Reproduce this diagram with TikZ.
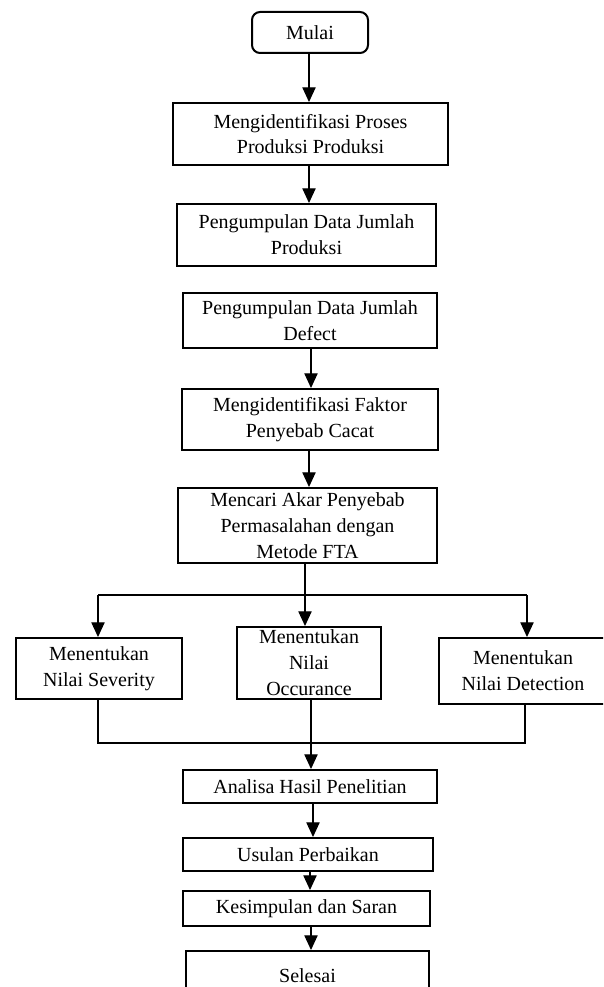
\documentclass[tikz,border=0pt]{standalone}
\usepackage{fontspec}
\setmainfont{Liberation Serif}
\usetikzlibrary{arrows.meta}
\begin{document}
\begin{tikzpicture}[x=0.75pt,y=-0.75pt,
  box/.style n args={2}{draw, line width=1.5pt, minimum width=#1*0.75pt, minimum height=#2*0.75pt, inner sep=0pt, align=center, font=\fontsize{15}{19.4}\selectfont},
  conn/.style={line width=0.8pt},
  arr/.style={conn,-{Triangle[width=10pt,length=11pt]}}]
\fill[white] (0,0) rectangle (603,987);
\useasboundingbox (0,0) rectangle (603,987);
\begin{scope}
\clip (0,0) rectangle (603,987);
\node[box={116}{41}, rounded corners=6pt] (start) at (310,32.5) {Mulai};
\node[box={275}{62}] (b1) at (310.5,134) {Mengidentifikasi Proses\\Produksi Produksi};
\node[box={259}{62}] (b2) at (306.5,235) {Pengumpulan Data Jumlah\\Produksi};
\node[box={254}{55}] (b3) at (310,320.5) {Pengumpulan Data Jumlah\\Defect};
\node[box={256}{61}] (b4) at (310,419.5) {Mengidentifikasi Faktor\\Penyebab Cacat};
\node[box={259}{75}] (b5) at (307.5,525.5) {Mencari Akar Penyebab\\Permasalahan dengan\\Metode FTA};
\node[box={166}{61}] (sev) at (99,668.5) {Menentukan\\Nilai Severity};
\node[box={144}{72}] (occ) at (309,663) {Menentukan\\Nilai\\Occurance};
\node[box={168}{66}] (det) at (523,671) {Menentukan\\Nilai Detection};
\node[box={254}{33}] (ana) at (310,786.5) {Analisa Hasil Penelitian};
\node[box={250}{33}] (usu) at (308,854.5) {Usulan Perbaikan};
\node[box={247}{35}] (kes) at (306.5,908.5) {Kesimpulan dan Saran};
\node[box={243}{50}] (sel) at (307.5,976) {Selesai};

\coordinate (a1) at (309,0);
\coordinate (a2) at (311,0);
\coordinate (jt) at (305,595);
\coordinate (jl) at (98,595);
\coordinate (jr) at (527,595);
\coordinate (bl) at (98,743);
\coordinate (br) at (525,743);
\coordinate (bm) at (311,743);
\coordinate (a3) at (313,0);
\coordinate (a4) at (310,0);

\draw[arr] (start.south -| a1) -- (b1.north -| a1);
\draw[arr] (b1.south -| a1) -- (b2.north -| a1);
\draw[arr] (b3.south -| a2) -- (b4.north -| a2);
\draw[arr] (b4.south -| a1) -- (b5.north -| a1);
\draw[conn] (b5.south -| jt) -- (jt);
\draw[conn] (jl) -- (jr);
\draw[arr] (jl) -- (jl |- sev.north);
\draw[arr] (jt) -- (jt |- occ.north);
\draw[arr] (jr) -- (jr |- det.north);
\draw[conn] (sev.south -| bl) -- (bl) -- (br) -- (det.south -| br);
\draw[arr] (occ.south -| bm) -- (ana.north -| bm);
\draw[arr] (ana.south -| a3) -- (usu.north -| a3);
\draw[arr] (usu.south -| a4) -- (kes.north -| a4);
\draw[arr] (kes.south -| a2) -- (sel.north -| a2);
\end{scope}
\end{tikzpicture}
\end{document}
